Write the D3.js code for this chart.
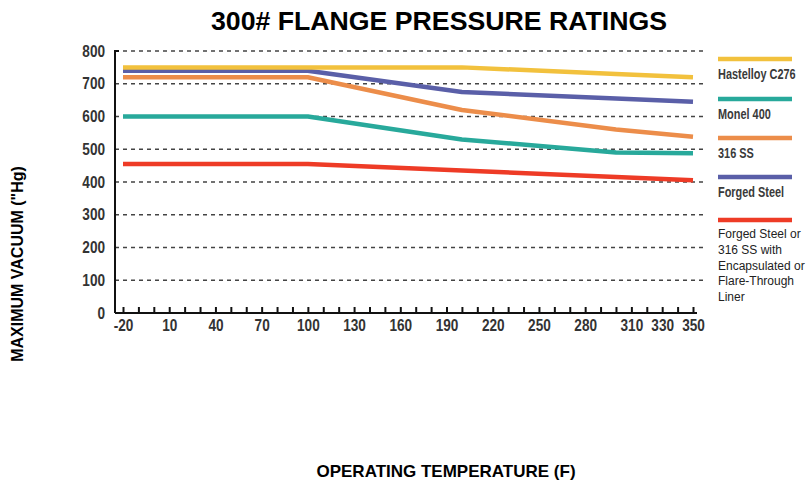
<!DOCTYPE html>
<html lang="en">
<head>
<meta charset="utf-8">
<title>300# Flange Pressure Ratings</title>
<script src="https://d3js.org/d3.v7.min.js"></script>
<style>
  body { margin: 0; background: #fff; }
  text { font-family: "Liberation Sans", Arial, sans-serif; }
</style>
</head>
<body>
<div class="chart"></div>
<script>
// data
const tempLabels = [-20, 10, 40, 70, 100, 130, 160, 190, 220, 250, 280, 310, 330, 350];
const vacuumTicks = [0, 100, 200, 300, 400, 500, 600, 700, 800];
const tempPoints = [-20, 100, 200, 300, 350];
const hastelloy = [750, 750, 750, 730, 720];
const monel = [600, 600, 530, 490, 488];
const ss316 = [720, 720, 620, 560, 538];
const forgedSteel = [740, 740, 675, 655, 645];
const linedSteel = [455, 455, 435, 415, 405];
const seriesNames = ["Hastelloy C276", "Monel 400", "316 SS", "Forged Steel",
  "Forged Steel or 316 SS with Encapsulated or Flare-Through Liner"];
const seriesColors = ["#f2c13d", "#28a99b", "#ec8d4a", "#5a5fa8", "#ee3b26"];

const series = [hastelloy, monel, ss316, forgedSteel, linedSteel].map((vals, i) => ({
  name: seriesNames[i], color: seriesColors[i],
  values: vals.map((v, j) => ({t: tempPoints[j], v: v}))
}));

const width = 812, height = 482;
const tickSqueeze = 0.85;   // horizontal squeeze to mimic the condensed face
const legendSqueeze = 0.78;
const svg = d3.select(".chart").append("svg")
  .attr("width", width).attr("height", height);

const x = d3.scaleLinear().domain([-20, 350]).range([123, 693]);
const y = d3.scaleLinear().domain([0, 800]).range([313, 51]);
const axisLeft = 115, axisRight = 697;

// title
svg.append("text")
  .attr("x", 211).attr("y", 30)
  .attr("font-size", "25px").attr("font-weight", "bold")
  .attr("textLength", 456).attr("lengthAdjust", "spacingAndGlyphs")
  .text("300# FLANGE PRESSURE RATINGS");

// dashed grid lines
svg.append("g").selectAll("line")
  .data(vacuumTicks.filter(d => d > 0))
  .join("line")
  .attr("x1", axisLeft).attr("x2", 703)
  .attr("y1", d => y(d)).attr("y2", d => y(d))
  .attr("stroke", "#444").attr("stroke-width", 1.3)
  .attr("stroke-dasharray", "4,4");

// y axis
const yAxis = svg.append("g")
  .attr("transform", `translate(${axisLeft},0)`)
  .call(d3.axisLeft(y).tickValues(vacuumTicks).tickSize(0).tickPadding(10 / tickSqueeze));
yAxis.select(".domain").remove();
yAxis.selectAll("text")
  .attr("font-family", null)
  .attr("font-size", "16px").attr("font-weight", "bold").attr("fill", "#333")
  .attr("transform", `scale(${tickSqueeze},1)`);
svg.append("path")
  .attr("d", `M${axisLeft + 4},${y(800)}H${axisLeft}V${y(0)}`)
  .attr("fill", "none").attr("stroke", "#111").attr("stroke-width", 2);

// x axis: minor tick marks every 10 degrees, labels at the listed temperatures
const xTicks = svg.append("g")
  .attr("transform", `translate(0,${y(0)})`)
  .call(d3.axisBottom(x).tickValues(d3.range(-20, 351, 10)).tickSize(-6).tickFormat(""));
xTicks.select(".domain").remove();
xTicks.selectAll("line").attr("stroke", "#111").attr("stroke-width", 2);
svg.append("line")
  .attr("x1", axisLeft).attr("x2", axisRight)
  .attr("y1", y(0)).attr("y2", y(0))
  .attr("stroke", "#111").attr("stroke-width", 2);

const xLabels = svg.append("g")
  .attr("transform", `translate(0,${y(0)})`)
  .call(d3.axisBottom(x).tickValues(tempLabels).tickSize(0).tickPadding(7)
    .tickFormat(d => String(d)));
xLabels.select(".domain").remove();
xLabels.selectAll("text")
  .attr("font-family", null)
  .attr("font-size", "16px").attr("font-weight", "bold").attr("fill", "#333")
  .attr("transform", `scale(${tickSqueeze},1)`);

// series lines
const line = d3.line()
  .x(d => x(d.t)).y(d => y(d.v));

svg.append("g").selectAll("path")
  .data(series.slice().reverse())
  .join("path")
  .attr("d", d => line(d.values))
  .attr("fill", "none")
  .attr("stroke", d => d.color)
  .attr("stroke-width", 4.5)
  .attr("stroke-linejoin", "round");

// axis titles
svg.append("text")
  .attr("transform", "translate(23,264) rotate(-90)")
  .attr("text-anchor", "middle")
  .attr("font-weight", "bold").attr("font-size", "16px")
  .text("MAXIMUM VACUUM (\"Hg)");

svg.append("text")
  .attr("x", 446).attr("y", 477)
  .attr("text-anchor", "middle")
  .attr("font-weight", "bold").attr("font-size", "17px")
  .text("OPERATING TEMPERATURE (F)");

// legend
const legendY = [59, 99, 138, 177, 220];
const legend = svg.append("g").selectAll("g")
  .data(series)
  .join("g")
  .attr("transform", (d, i) => `translate(718,${legendY[i]})`);

legend.append("line")
  .attr("x1", 0).attr("x2", 74)
  .attr("stroke", d => d.color).attr("stroke-width", 4.5);

legend.filter((d, i) => i < 4).append("text")
  .attr("y", 20)
  .attr("font-size", "14px").attr("font-weight", "bold").attr("fill", "#3a3a3a")
  .attr("transform", `scale(${legendSqueeze},1)`)
  .text(d => d.name);

const linerLines = ["Forged Steel or", "316 SS with", "Encapsulated or", "Flare-Through", "Liner"];
legend.filter((d, i) => i === 4).append("text")
  .attr("font-size", "12px").attr("fill", "#222")
  .selectAll("tspan")
  .data(linerLines)
  .join("tspan")
  .attr("x", 0)
  .attr("y", (d, i) => 18 + i * 15.8)
  .text(d => d);
</script>
</body>
</html>
